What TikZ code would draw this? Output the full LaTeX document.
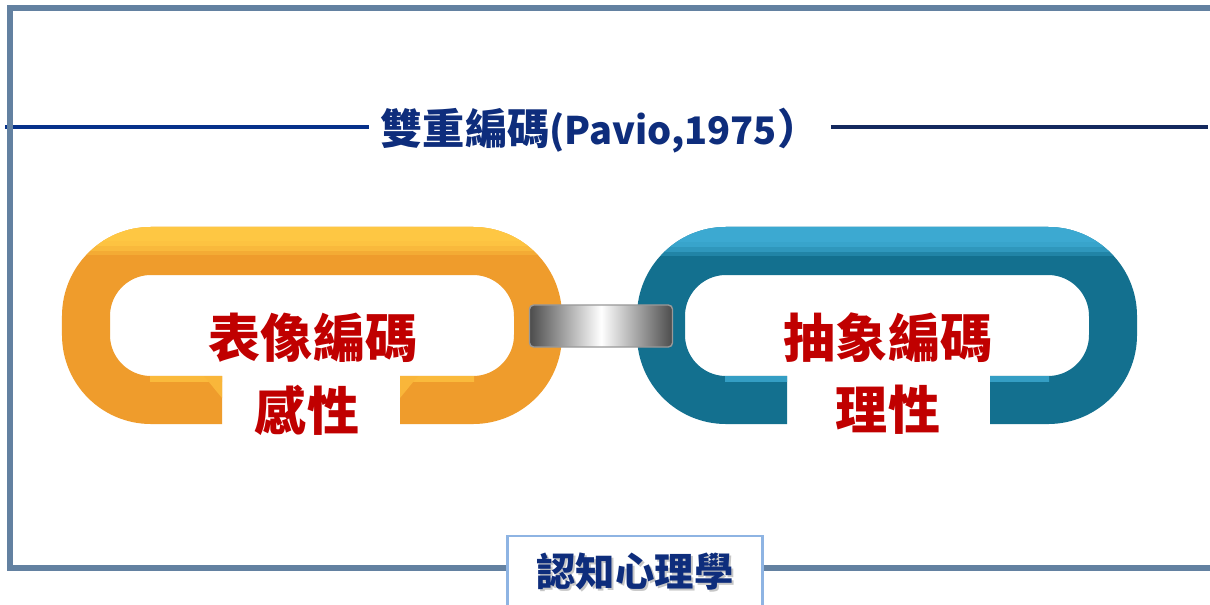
\documentclass[tikz,border=0pt]{standalone}
\usepackage{fontspec}
\newfontfamily\cjk{Noto Sans CJK TC}
\usetikzlibrary{positioning}

\definecolor{framegray}{HTML}{6381A1}
\definecolor{navyleft}{HTML}{06318A}
\definecolor{navyright}{HTML}{14295E}
\definecolor{titlenavy}{HTML}{0E2D7C}
\definecolor{boxblue}{HTML}{8EB4E3}
\definecolor{codered}{HTML}{C00000}
\definecolor{orangemid}{HTML}{EF9C2C}
\definecolor{orangelt}{HTML}{FFC844}
\definecolor{bluemid}{HTML}{13708F}
\definecolor{bluelt}{HTML}{3DAAD2}
\definecolor{bargray}{HTML}{4C4C4C}

% one chain link as an open rounded loop, #1 = left x, #2/#3 = ends of the gap
\newcommand{\linkpath}[3]{%
  (#2,400) -| (#1,251) -| ({#1+452},400) -- (#3,400)}

\begin{document}
\begin{tikzpicture}[x=0.025cm,y=-0.025cm,
    codetext/.style={font=\cjk\bfseries\fontsize{37}{40}\selectfont,text=codered,inner sep=0pt},
    frame/.style={draw=framegray,line width=3.6pt}]
    \tikzstyle{tube}=[line width=1.2cm,rounded corners=1.625cm]

    \useasboundingbox (0,0) rectangle (1210,605);
    \fill[white] (0,0) rectangle (1210,605);

    % title with its rule
    \node[font=\cjk\bfseries\fontsize{30}{34}\selectfont,text=titlenavy,inner xsep=8pt,inner ysep=3pt]
        (title) at (600,131) {雙重編碼{\fontsize{27}{30}\selectfont(Pavio,1975}）};
    \draw[navyleft,line width=2.9pt] (5,127) -- (title.west |- 5,127);
    \draw[navyright,line width=2.9pt] (title.east |- 5,127) -- (1208,127);

    % left link, lit from above
    \draw[orangemid,tube] \linkpath{86}{222}{400};
    \foreach \y/\o in {254/.35,250/.5,245/.7,240/.9} {
      \begin{scope}
        \clip (0,0) rectangle (1210,\y);
        \draw[orangelt,tube,opacity=\o] \linkpath{86}{222}{400};
      \end{scope}
    }
    \begin{scope}
      \clip (150,376) rectangle (474,381);
      \draw[orangelt,tube,opacity=.7] \linkpath{86}{222}{400};
    \end{scope}
    \fill[orangelt!60!orangemid] (222,376) -- (222,398) -- (204,376) -- cycle;
    \fill[orangelt!60!orangemid] (400,376) -- (400,398) -- (418,376) -- cycle;

    % right link
    \draw[bluemid,tube] \linkpath{661}{787}{990};
    \foreach \y/\o in {255/.35,251/.5,246/.7,241/.9} {
      \begin{scope}
        \clip (0,0) rectangle (1210,\y);
        \draw[bluelt,tube,opacity=\o] \linkpath{661}{787}{990};
      \end{scope}
    }
    \begin{scope}
      \clip (725,376) rectangle (1049,381);
      \draw[bluelt,tube,opacity=.8] \linkpath{661}{787}{990};
    \end{scope}

    % bar joining the two links
    \node[left color=bargray,right color=bargray,middle color=white,draw=gray!80,
        line width=1pt,rounded corners=3pt,minimum width=3.575cm,minimum height=1.05cm]
        (bar) at (601,326) {};

    \node[codetext] (image) at (313,338) {表像編碼};
    \node[codetext] (imagesub) at (307,410) {感性};
    \node[codetext] (verbal) at (888,338) {抽象編碼};
    \node[codetext] (verbalsub) at (888,410) {理性};

    % outer frame and the label box on it
    \node[draw=boxblue,fill=white,line width=1.6pt,minimum width=6.375cm,minimum height=1.95cm]
        (field) at (635,575) {};
    \node[font=\cjk\bfseries\fontsize{28}{32}\selectfont,text=gray!45] (fieldshadow) at (637,574) {認知心理學};
    \node[font=\cjk\bfseries\fontsize{28}{32}\selectfont,text=titlenavy] (fieldtext) at (635,572) {認知心理學};
    \coordinate (framebl) at (10,568);
    \draw[frame] (1210,8) -| (framebl) -- (framebl -| field.west);
    \draw[frame] (framebl -| field.east) -- (1210,568);

\end{tikzpicture}
\end{document}
